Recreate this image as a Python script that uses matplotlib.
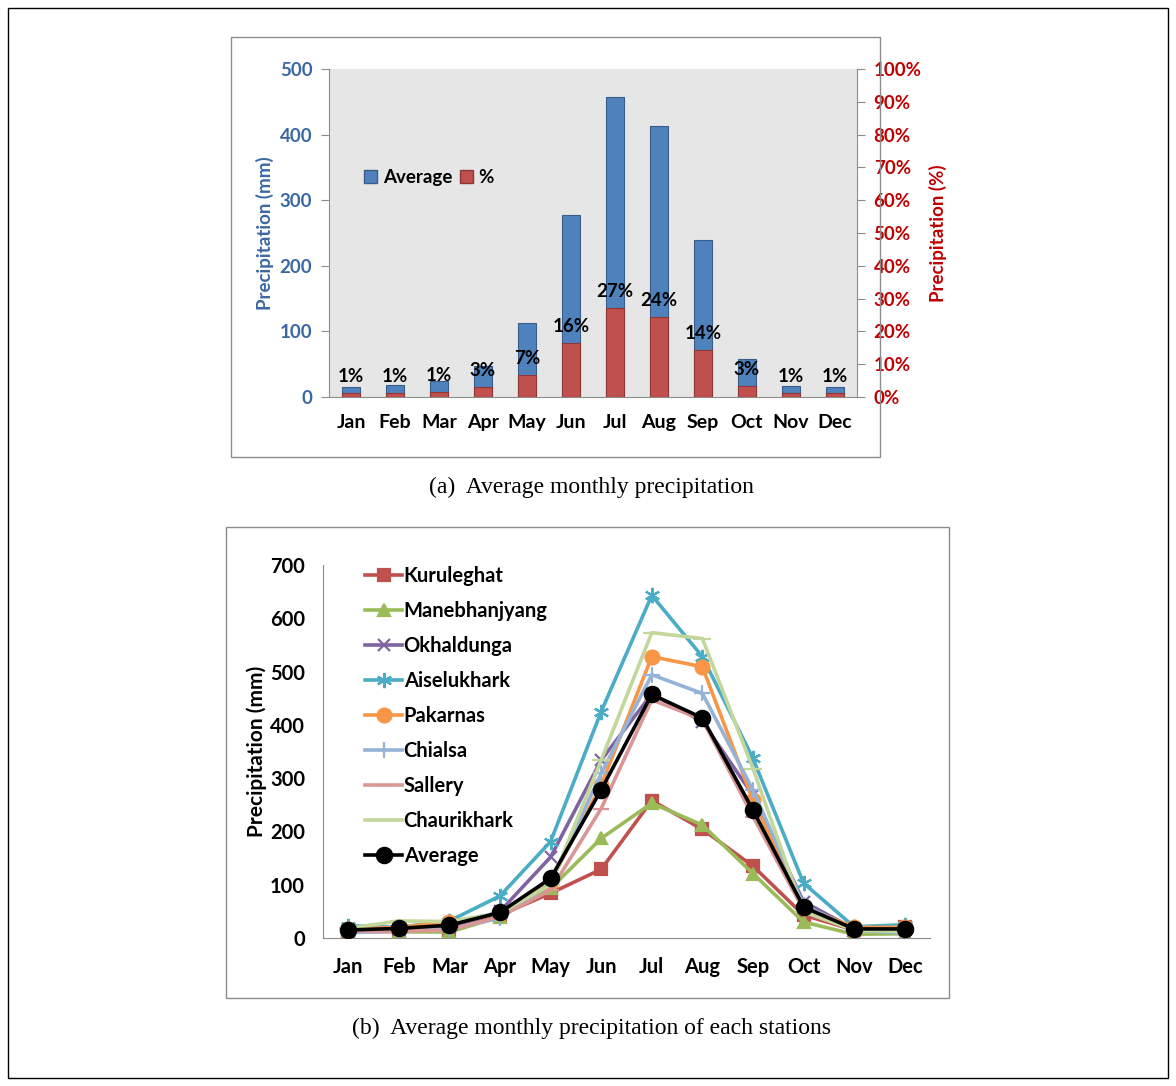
import matplotlib
matplotlib.use('Agg')
import matplotlib.pyplot as plt
from matplotlib.patches import Rectangle, Patch

plt.rcParams['font.family'] = ['Lato', 'DejaVu Sans']

months = ['Jan', 'Feb', 'Mar', 'Apr', 'May', 'Jun', 'Jul', 'Aug', 'Sep', 'Oct', 'Nov', 'Dec']

# (a) average monthly precipitation (mm) and share of annual total (%)
average = [16, 18, 25, 48, 113, 277, 457, 413, 240, 58, 17, 16]
percent = [1.1, 1.1, 1.4, 2.9, 6.7, 16.4, 27.0, 24.4, 14.2, 3.4, 1.1, 1.1]

# (b) stations
stations = ['Kuruleghat', 'Manebhanjyang', 'Okhaldunga', 'Aiselukhark', 'Pakarnas',
            'Chialsa', 'Sallery', 'Chaurikhark', 'Average']
kuruleghat = [12, 12, 13, 43, 84, 129, 258, 204, 135, 43, 15, 21]
manebhanjyang = [15, 12, 11, 40, 93, 187, 253, 212, 121, 30, 7, 8]
okhaldunga = [15, 17, 20, 50, 152, 334, 458, 406, 268, 68, 17, 15]
aiselukhark = [23, 20, 32, 79, 181, 425, 643, 528, 337, 103, 21, 25]
pakarnas = [17, 20, 30, 46, 106, 287, 528, 509, 259, 59, 20, 20]
chialsa = [10, 13, 17, 37, 103, 309, 494, 459, 278, 62, 15, 9]
sallery = [13, 13, 15, 40, 90, 243, 447, 410, 228, 53, 17, 17]
chaurikhark = [18, 32, 31, 47, 100, 334, 573, 562, 318, 49, 15, 12]
station_avg = [15, 18, 24, 48, 112, 278, 457, 413, 240, 58, 17, 17]

blue = '#4F81BD'
red = '#C0504D'
blue_txt = '#3B68A3'
red_txt = '#C00000'
box_col = '#8C8C8C'

fig = plt.figure(figsize=(11.76, 10.86), dpi=100)
W, H = 1176, 1086


def fig_rect(x0, y0, x1, y1, color, lw):
    fig.patches.append(Rectangle((x0 / W, 1 - y1 / H), (x1 - x0) / W, (y1 - y0) / H,
                                 transform=fig.transFigure, fill=False,
                                 edgecolor=color, linewidth=lw))


fig_rect(8, 8, 1168, 1078, 'black', 1.0)
fig_rect(231, 37, 880, 457, box_col, 1.0)
fig_rect(226, 527, 949, 998, box_col, 1.0)

# ---------- (a) ----------
x = range(len(months))
ax1 = fig.add_axes([329 / W, 1 - 397 / H, 528 / W, 328 / H])
ax1.set_facecolor('#E6E6E6')
ax1.bar(x, average, width=0.4, color=blue, edgecolor='#385D8A', linewidth=0.8)
ax1.set_ylim(0, 500)
ax1.set_xlim(-0.5, 11.5)
ax1.set_yticks(range(0, 501, 100))
ax1.set_xticks(list(x))
ax1.set_xticklabels(months, fontsize=14, fontweight='bold')
ax1.tick_params(axis='x', length=0, pad=12)
ax1.tick_params(axis='y', colors=box_col, labelcolor=blue_txt, labelsize=13.5, length=6, pad=6)
for lab in ax1.get_yticklabels():
    lab.set_fontweight('bold')
ax1.set_ylabel('Precipitation (mm)', color=blue_txt, fontsize=13.5, fontweight='bold', labelpad=4)
for s in ['top', 'right']:
    ax1.spines[s].set_visible(False)
for s in ['left', 'bottom']:
    ax1.spines[s].set_color(box_col)

ax2 = ax1.twinx()
ax2.bar(x, percent, width=0.4, color=red, edgecolor='#8C3836', linewidth=0.8)
ax2.set_ylim(0, 100)
ax2.set_yticks(range(0, 101, 10))
ax2.set_yticklabels([f'{v}%' for v in range(0, 101, 10)])
ax2.tick_params(axis='y', colors=box_col, labelcolor=red_txt, labelsize=13.5, length=6, pad=6)
for lab in ax2.get_yticklabels():
    lab.set_fontweight('bold')
ax2.set_ylabel('Precipitation (%)', color=red_txt, fontsize=13.5, fontweight='bold', labelpad=5)
for s in ['top', 'left', 'bottom']:
    ax2.spines[s].set_visible(False)
ax2.spines['right'].set_color(box_col)
for i, p in enumerate(percent):
    ax2.annotate(f'{p:.0f}%', (i, p), xytext=(0, 12), textcoords='offset points',
                 ha='center', va='center', fontsize=13.5, fontweight='bold')
ax2.legend(handles=[Patch(facecolor=blue, edgecolor='#385D8A', label='Average'),
                    Patch(facecolor=red, edgecolor='#8C3836', label='%')],
           loc='center left', bbox_to_anchor=(0.035, 0.67), ncol=2, frameon=False,
           handlelength=0.7, handleheight=0.7, handletextpad=0.3, columnspacing=0.4,
           prop={'weight': 'bold', 'size': 13.5})

fig.text(591 / W, 1 - 487 / H, '(a)  Average monthly precipitation',
         family='Liberation Serif', fontsize=17, ha='center', va='center')

# ---------- (b) ----------
ax3 = fig.add_axes([323 / W, 1 - 938 / H, 607 / W, 373 / H])
series = [kuruleghat, manebhanjyang, okhaldunga, aiselukhark, pakarnas,
          chialsa, sallery, chaurikhark, station_avg]
colors = ['#C0504D', '#9BBB59', '#8064A2', '#4BACC6', '#F79646',
          '#95B3D7', '#D99694', '#C3D69B', 'black']
markers = ['s', '^', 'x', (6, 2, 0), 'o', '+', '_', '_', 'o']
msizes = [9, 9, 9, 11, 10, 12, 11, 13, 11]
for name, vals, c, m, ms in zip(stations, series, colors, markers, msizes):
    ax3.plot(x, vals, color=c, marker=m, markersize=ms, linewidth=2.6,
             markeredgewidth=1.6, label=name, zorder=3 if name == 'Average' else 2)
ax3.set_ylim(0, 700)
ax3.set_xlim(-0.5, 11.5)
ax3.set_yticks(range(0, 701, 100))
ax3.set_xticks(list(x))
ax3.set_xticklabels(months, fontsize=14.5, fontweight='bold')
for lab in ax3.get_yticklabels():
    lab.set_fontweight('bold')
    lab.set_fontsize(14.5)
ax3.tick_params(length=0)
ax3.tick_params(axis='x', pad=14)
ax3.tick_params(axis='y', pad=13)
ax3.set_ylabel('Precipitation (mm)', fontsize=15, fontweight='bold', labelpad=2)
for s in ['top', 'right']:
    ax3.spines[s].set_visible(False)
for s in ['left', 'bottom']:
    ax3.spines[s].set_color(box_col)
ax3.legend(loc='upper left', bbox_to_anchor=(0.04, 1.045), frameon=False,
           handlelength=1.8, handletextpad=0.1, labelspacing=0.74,
           prop={'weight': 'bold', 'size': 14.5})

fig.text(591 / W, 1 - 1028 / H, '(b)  Average monthly precipitation of each stations',
         family='Liberation Serif', fontsize=17, ha='center', va='center')

fig.savefig('out.png', dpi=100)
